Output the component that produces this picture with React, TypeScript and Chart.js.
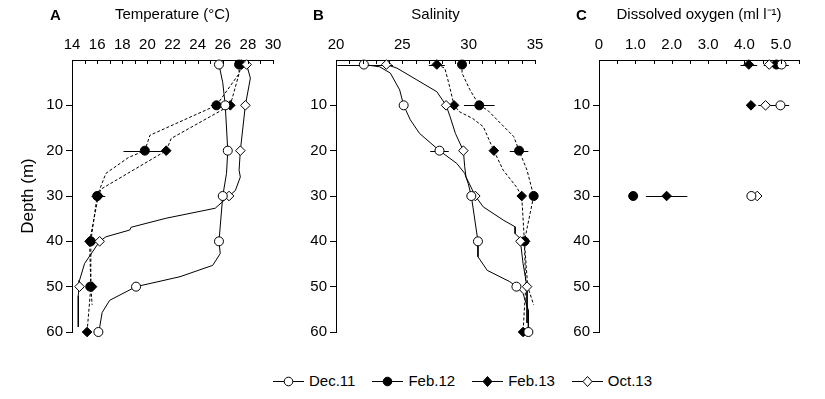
import React, { useEffect, useRef } from 'react';
import { Chart, registerables } from 'chart.js';

Chart.register(...registerables);

const FONT = "'Liberation Sans', Arial, Helvetica, sans-serif";

// ---------- DATA ----------
const seriesNames = ['Dec.11', 'Feb.12', 'Feb.13', 'Oct.13'];
const stationDepths = [1, 10, 20, 30, 40, 50, 60];
const oxygenDepths = [1, 10, 30];

const tempTicks = { min: 14, max: 30, step: 1, labelEvery: 2 };
const salTicks = { min: 20, max: 35, step: 1, labelEvery: 5 };
const oxyTicks = { min: 0, max: 5.5, step: 0.5, labelEvery: 1 };
const depthTicks = { min: 0, max: 60, step: 10 };

// Temperature (°C) at station depths
const tempDec11 = [25.7, 26.2, 26.4, 26.0, 25.7, 19.1, 16.1];
const tempFeb12 = [27.3, 25.5, 19.8, 16.0, 15.5, 15.45, null];
const tempFeb13 = [27.5, 26.6, 21.5, 16.1, 15.4, 15.6, 15.2];
const tempOct13 = [27.9, 27.8, 27.4, 26.5, 16.2, 14.6, null];
const tempErrDec11 = [0, 0, 0, 0, 0, 0, 0];
const tempErrFeb12 = [0, 0.45, 1.7, 0, 0, 0.15, 0];
const tempErrFeb13 = [0, 0.35, 0, 0.55, 0, 0, 0];
const tempErrOct13 = [0, 0, 0, 0, 0, 0, 0];

// Continuous temperature profiles [depth, value]
const tempProfDec11: [number, number][] = [[1, 25.7], [5, 26.0], [10, 26.2], [20, 26.4], [25, 26.3], [30, 26.0], [40, 25.7], [42.7, 25.8], [45.3, 25.2], [47.8, 22.6], [50, 19.1], [53, 17.0], [55.7, 16.4], [59, 16.2], [60, 16.1]];
const tempProfOct13: [number, number][] = [[1, 27.9], [4, 28.2], [10, 27.8], [20, 27.4], [24.3, 27.3], [25.8, 27.4], [28.8, 27.0], [30, 26.5], [32.7, 25.4], [34.9, 21.5], [36.9, 18.7], [37.5, 18.6], [39, 16.7], [40, 16.2], [44.9, 15.0], [48.6, 14.6], [50, 14.56], [52, 14.5], [58.9, 14.5]];
const tempProfFeb12: [number, number][] = [[1, 27.3], [3, 27.3], [10, 25.5], [16.6, 20.2], [20, 19.8], [21.5, 18.5], [25, 16.7], [30, 16.0], [40, 15.5], [50, 15.5], [54, 15.6]];
const tempProfFeb13: [number, number][] = [[1, 27.5], [4, 27.2], [10, 26.6], [17.3, 21.9], [20, 21.5], [28.5, 16.3], [30, 16.1], [40, 15.4], [50, 15.5], [60, 15.2]];

// Salinity at station depths
const salDec11 = [22.1, 25.1, 27.8, 30.2, 30.7, 33.6, 34.5];
const salFeb12 = [29.5, 30.8, 33.8, 34.9, 34.2, null, null];
const salFeb13 = [27.6, 28.9, 31.9, 34.0, 34.25, null, 34.1];
const salOct13 = [23.8, 28.3, 29.6, 30.5, 33.9, 34.4, null];
const salErrDec11 = [2.0, 0, 0.7, 0, 0, 0, 0];
const salErrFeb12 = [0, 1.15, 0.7, 0, 0, 0, 0];
const salErrFeb13 = [0.6, 0, 0, 0, 0, 0, 0];
const salErrOct13 = [0.5, 0, 0, 0, 0, 0, 0];

const salProfDec11: [number, number][] = [[1, 22.1], [1.5, 23.3], [2.9, 24.1], [6.6, 24.8], [10, 25.1], [13.2, 25.6], [16.2, 26.3], [20, 27.8], [22.8, 29.1], [25, 29.7], [27.2, 29.96], [30, 30.2], [40, 30.7], [43.4, 30.7], [46.4, 31.4], [48.9, 33.1], [50, 33.6], [51.5, 34.1], [55.2, 34.5], [60, 34.5]];
const salProfOct13: [number, number][] = [[1, 23.8], [1.8, 24.6], [4.4, 26.1], [7, 27.6], [10, 28.3], [12.5, 28.6], [16.2, 29.0], [20, 29.6], [23.5, 29.7], [25.8, 29.8], [30, 30.5], [32.4, 31.1], [35.3, 32.6], [36.8, 33.5], [38.3, 33.5], [39.4, 33.9], [40, 33.9], [44.9, 34.1], [50, 34.4], [58, 34.4]];
const salProfFeb12: [number, number][] = [[1, 29.5], [2.9, 29.5], [6.6, 30.1], [10, 30.8], [11, 31.4], [16.9, 33.4], [20, 33.8], [24.3, 34.4], [30, 34.9], [40, 34.2], [50, 34.45], [54, 34.9]];
const salProfFeb13: [number, number][] = [[1, 27.6], [1.8, 28.2], [5.1, 28.5], [10, 28.9], [11.4, 29.3], [12.9, 30.3], [14.7, 31.1], [20, 31.9], [24.3, 32.6], [28, 33.6], [30, 34.0], [40, 34.2], [50, 34.3], [60, 34.1]];

// Dissolved oxygen (ml l-1)
const oxyDec11 = [5.02, 4.99, 4.19];
const oxyFeb12 = [4.88, null, 0.94];
const oxyFeb13 = [4.12, 4.18, 1.86];
const oxyOct13 = [4.68, 4.58, 4.35];
const oxyErrDec11 = [0.2, 0.24, 0];
const oxyErrFeb12 = [0, 0, 0];
const oxyErrFeb13 = [0.23, 0, 0.57];
const oxyErrOct13 = [0.15, 0.2, 0];

// ---------- STYLES ----------
const seriesStyle = [
  { pointStyle: 'circle', fill: '#ffffff', dash: [] as number[] },
  { pointStyle: 'circle', fill: '#000000', dash: [3, 2] },
  { pointStyle: 'rectRot', fill: '#000000', dash: [3, 2] },
  { pointStyle: 'rectRot', fill: '#ffffff', dash: [] as number[] },
];

function pointDataset(idx: number, depths: number[], values: (number | null)[], errs: number[]) {
  const data: any[] = [];
  depths.forEach((d, i) => {
    const v = values[i];
    if (v !== null && v !== undefined) data.push({ x: v, y: d, e: errs[i] || 0 });
  });
  const st = seriesStyle[idx];
  return {
    label: seriesNames[idx],
    data,
    showLine: false,
    pointStyle: st.pointStyle,
    pointRadius: st.pointStyle === 'circle' ? 4.5 : 4.8,
    pointBackgroundColor: st.fill,
    pointBorderColor: '#000',
    pointBorderWidth: 1,
    clip: false,
    order: 0,
    isMarker: true,
  };
}

function profileDataset(idx: number, prof: [number, number][]) {
  const st = seriesStyle[idx];
  return {
    label: seriesNames[idx] + ' profile',
    data: prof.map(([d, v]) => ({ x: v, y: d })),
    showLine: true,
    pointRadius: 0,
    borderColor: '#000',
    borderWidth: 1,
    borderDash: st.dash,
    tension: 0,
    order: 5,
  };
}

const errorBarPlugin = {
  id: 'errorBars',
  beforeDatasetsDraw(chart: any) {
    const ctx = chart.ctx;
    const xs = chart.scales.x;
    ctx.save();
    ctx.strokeStyle = '#000';
    ctx.lineWidth = 1;
    chart.data.datasets.forEach((ds: any, di: number) => {
      if (!ds.isMarker) return;
      const meta = chart.getDatasetMeta(di);
      ds.data.forEach((p: any, i: number) => {
        if (!p.e) return;
        const el = meta.data[i];
        const y = Math.round(el.y) + 0.5;
        ctx.beginPath();
        ctx.moveTo(xs.getPixelForValue(p.x - p.e), y);
        ctx.lineTo(xs.getPixelForValue(p.x + p.e), y);
        ctx.stroke();
      });
    });
    ctx.restore();
  },
};

const innerTickPlugin = {
  id: 'innerTicks',
  afterDraw(chart: any) {
    const ctx = chart.ctx;
    const xs = chart.scales.x;
    const top = chart.chartArea.top;
    ctx.save();
    ctx.strokeStyle = '#000';
    ctx.lineWidth = 1;
    xs.ticks.forEach((t: any) => {
      const px = Math.round(xs.getPixelForValue(t.value)) + 0.5;
      ctx.beginPath();
      ctx.moveTo(px, top);
      ctx.lineTo(px, top + 4);
      ctx.stroke();
    });
    ctx.restore();
  },
};

function buildOptions(cfg: any) {
  const tk = cfg.ticks;
  return {
    responsive: false,
    animation: false,
    events: [],
    layout: { padding: { left: 0, right: cfg.rightPad, top: 0, bottom: cfg.bottomPad } },
    plugins: { legend: { display: false }, tooltip: { enabled: false } },
    scales: {
      x: {
        type: 'linear',
        position: 'top',
        min: tk.min,
        max: tk.max,
        afterFit: (s: any) => { s.height = 60; },
        border: { display: true, color: '#000', width: 1 },
        grid: { display: true, drawOnChartArea: false, drawTicks: false },
        ticks: {
          stepSize: tk.step,
          autoSkip: false,
          maxRotation: 0,
          padding: 6,
          color: '#000',
          font: { family: FONT, size: 15 },
          callback: cfg.tickLabel,
        },
        title: {
          display: true,
          text: cfg.xTitle,
          color: '#000',
          font: { family: FONT, size: 15 },
          padding: { top: 6, bottom: 0 },
        },
      },
      y: {
        type: 'linear',
        reverse: true,
        min: depthTicks.min,
        max: depthTicks.max,
        afterFit: (s: any) => { s.width = cfg.yWidth; },
        afterBuildTicks: (s: any) => { s.ticks = s.ticks.filter((t: any) => t.value !== 0); },
        border: { display: true, color: '#000', width: 1 },
        grid: { display: true, drawOnChartArea: false, drawTicks: true, tickLength: 6, color: '#000' },
        ticks: {
          stepSize: depthTicks.step,
          padding: 3,
          color: '#000',
          font: { family: FONT, size: 15 },
        },
        title: cfg.yTitle
          ? { display: true, text: cfg.yTitle, color: '#000', font: { family: FONT, size: 17 }, padding: { top: 18, bottom: 0 } }
          : { display: false },
      },
    },
  };
}

function isMultiple(v: number, m: number) {
  const r = v / m;
  return Math.abs(r - Math.round(r)) < 1e-6;
}

const panels = [
  {
    key: 'A',
    left: 0, width: 290, height: 345,
    yWidth: 72, rightPad: 17,
    xTitle: 'Temperature (°C)', yTitle: 'Depth (m)',
    ticks: tempTicks,
    tickLabel: (v: number) => (isMultiple(v, tempTicks.labelEvery) ? String(Math.round(v)) : ''),
    datasets: () => [
      pointDataset(0, stationDepths, tempDec11, tempErrDec11),
      pointDataset(3, stationDepths, tempOct13, tempErrOct13),
      pointDataset(2, stationDepths, tempFeb13, tempErrFeb13),
      pointDataset(1, stationDepths, tempFeb12, tempErrFeb12),
      profileDataset(0, tempProfDec11),
      profileDataset(3, tempProfOct13),
      profileDataset(1, tempProfFeb12),
      profileDataset(2, tempProfFeb13),
    ],
  },
  {
    key: 'B',
    left: 290, width: 270, height: 345,
    yWidth: 46, rightPad: 25,
    xTitle: 'Salinity', yTitle: null,
    ticks: salTicks,
    tickLabel: (v: number) => (isMultiple(v, salTicks.labelEvery) ? String(Math.round(v)) : ''),
    datasets: () => [
      pointDataset(0, stationDepths, salDec11, salErrDec11),
      pointDataset(3, stationDepths, salOct13, salErrOct13),
      pointDataset(2, stationDepths, salFeb13, salErrFeb13),
      pointDataset(1, stationDepths, salFeb12, salErrFeb12),
      profileDataset(0, salProfDec11),
      profileDataset(3, salProfOct13),
      profileDataset(1, salProfFeb12),
      profileDataset(2, salProfFeb13),
    ],
  },
  {
    key: 'C',
    left: 560, width: 265, height: 345,
    yWidth: 39, rightPad: 26,
    xTitle: 'Dissolved oxygen (ml l\u207B\u00B9)', yTitle: null,
    ticks: oxyTicks,
    tickLabel: (v: number) => (isMultiple(v, 1) ? (Math.abs(v) < 1e-9 ? '0' : v.toFixed(1)) : ''),
    datasets: () => [
      pointDataset(0, oxygenDepths, oxyDec11, oxyErrDec11),
      pointDataset(3, oxygenDepths, oxyOct13, oxyErrOct13),
      pointDataset(2, oxygenDepths, oxyFeb13, oxyErrFeb13),
      pointDataset(1, oxygenDepths, oxyFeb12, oxyErrFeb12),
    ],
  },
];

function Panel({ p }: { p: any }) {
  const ref = useRef<HTMLCanvasElement | null>(null);
  useEffect(() => {
    if (!ref.current) return;
    const chart = new Chart(ref.current, {
      type: 'scatter',
      data: { datasets: p.datasets() },
      options: buildOptions({
        ticks: p.ticks,
        tickLabel: p.tickLabel,
        xTitle: p.xTitle,
        yTitle: p.yTitle,
        yWidth: p.yWidth,
        rightPad: p.rightPad,
        bottomPad: p.height - 332,
      }) as any,
      plugins: [errorBarPlugin, innerTickPlugin],
    } as any);
    return () => chart.destroy();
  }, []);
  return (
    <div style={{ position: 'absolute', left: p.left, top: 0, width: p.width, height: p.height }}>
      <canvas ref={ref} width={p.width} height={p.height} style={{ width: p.width, height: p.height, display: 'block' }} />
    </div>
  );
}

function LegendMarker({ idx }: { idx: number }) {
  const st = seriesStyle[idx];
  return (
    <svg width={31} height={12} style={{ display: 'block' }}>
      <line x1={0} y1={6.5} x2={31} y2={6.5} stroke="#000" strokeWidth={1} />
      {st.pointStyle === 'circle' ? (
        <circle cx={15.5} cy={6.5} r={4.3} fill={st.fill} stroke="#000" strokeWidth={1} />
      ) : (
        <polygon points="15.5,1.5 20,6.5 15.5,11.5 11,6.5" fill={st.fill} stroke="#000" strokeWidth={1} />
      )}
    </svg>
  );
}

export default function App() {
  const letters = [
    { t: 'A', left: 50 },
    { t: 'B', left: 313 },
    { t: 'C', left: 576 },
  ];
  return (
    <div style={{ position: 'absolute', left: 0, top: 0, width: 825, height: 399, background: '#fff', fontFamily: FONT, color: '#000' }}>
      {panels.map((p) => (
        <Panel key={p.key} p={p} />
      ))}
      {letters.map((l) => (
        <div key={l.t} style={{ position: 'absolute', left: l.left, top: 6, fontSize: 15, lineHeight: '18px', fontWeight: 'bold' }}>
          {l.t}
        </div>
      ))}
      <div style={{ position: 'absolute', left: 273, top: 372, height: 18, display: 'flex', alignItems: 'center', fontSize: 15, lineHeight: '18px' }}>
        {seriesNames.map((n, i) => (
          <div key={n} style={{ display: 'flex', alignItems: 'center', marginRight: 17 }}>
            <LegendMarker idx={i} />
            <span style={{ marginLeft: 5 }}>{n}</span>
          </div>
        ))}
      </div>
    </div>
  );
}
